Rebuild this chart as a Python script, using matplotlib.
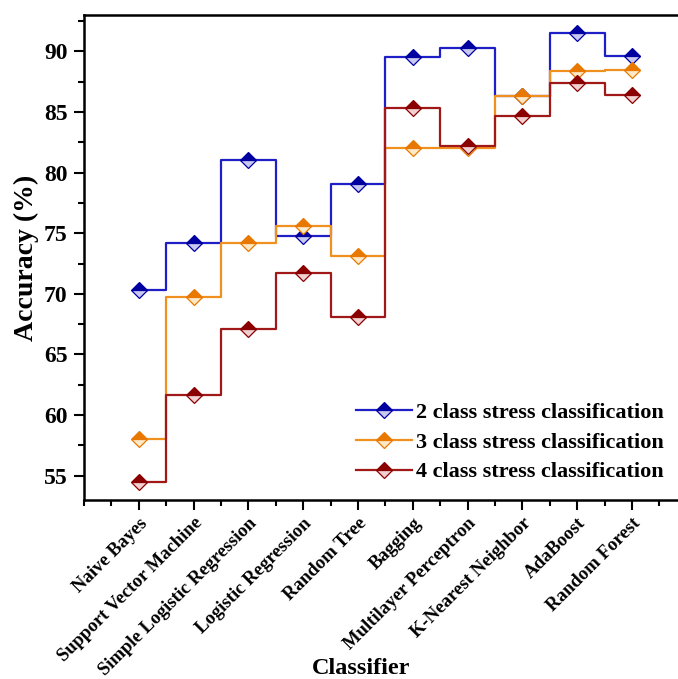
import numpy as np
import matplotlib.pyplot as plt
from matplotlib.ticker import MultipleLocator

plt.rcParams['font.family'] = ['Liberation Serif', 'DejaVu Serif']
plt.rcParams['font.weight'] = 'bold'

# classificadores e acurácias (%)
classifiers = ["Naive Bayes", "Support Vector Machine", "Simple Logistic Regression",
               "Logistic Regression", "Random Tree", "Bagging", "Multilayer Perceptron",
               "K-Nearest Neighbor", "AdaBoost", "Random Forest"]
acc_2class = [70.3, 74.2, 81.0, 74.8, 79.1, 89.5, 90.3, 86.3, 91.5, 89.6]
acc_3class = [58.0, 69.7, 74.2, 75.6, 73.1, 82.0, 82.0, 86.3, 88.4, 88.5]
acc_4class = [54.5, 61.7, 67.1, 71.7, 68.1, 85.3, 82.2, 84.7, 87.4, 86.4]

labels = ["2 class stress classification", "3 class stress classification",
          "4 class stress classification"]
series = [acc_2class, acc_3class, acc_4class]
# cor da linha, cor do marcador, metade clara
colors = [("#1f1fc8", "#0000a0", "#c8c8f0"),
          ("#f0901e", "#e87800", "#fde8c8"),
          ("#a01818", "#8b0000", "#f0d0d0")]

x = np.arange(1, len(classifiers) + 1)

fig = plt.figure(figsize=(6.78, 6.79), dpi=100)
ax = fig.add_axes([0.124, 0.2636, 0.889, 0.7144])

for y, lab, (lc, mc, alt) in zip(series, labels, colors):
    ax.plot(x, y, drawstyle="steps-mid", color=lc, lw=1.6,
            marker="D", markersize=8, fillstyle="top", markerfacecolor=mc,
            markerfacecoloralt=alt, markeredgecolor=mc, markeredgewidth=0.9,
            label=lab)

ax.set_xlim(0, 11)
ax.set_ylim(53, 93)
ax.set_xticks(x)
ax.set_xticklabels(classifiers, rotation=45, ha="right", rotation_mode="anchor",
                   fontsize=13.5, fontweight="bold")
ax.xaxis.set_minor_locator(MultipleLocator(0.5))
ax.yaxis.set_major_locator(MultipleLocator(5))
ax.yaxis.set_minor_locator(MultipleLocator(2.5))
ax.tick_params(which="major", direction="out", length=7, width=1.5)
ax.tick_params(which="minor", direction="out", length=4, width=1.5)
ax.tick_params(axis="y", labelsize=17, pad=5)
for lbl in ax.get_yticklabels():
    lbl.set_fontweight("bold")
for s in ax.spines.values():
    s.set_linewidth(1.8)

ax.set_xlabel("Classifier", fontsize=17.5, fontweight="bold", va="top")
ax.xaxis.set_label_coords(0.46, -0.325)
ax.set_ylabel("Accuracy (%)", fontsize=20, fontweight="bold", labelpad=3)

ax.legend(loc="lower left", bbox_to_anchor=(0.418, -0.005), frameon=False,
          handlelength=2.5, handletextpad=0.2, labelspacing=0.42,
          prop={"weight": "bold", "size": 16})

fig.savefig("out.png", dpi=100)
